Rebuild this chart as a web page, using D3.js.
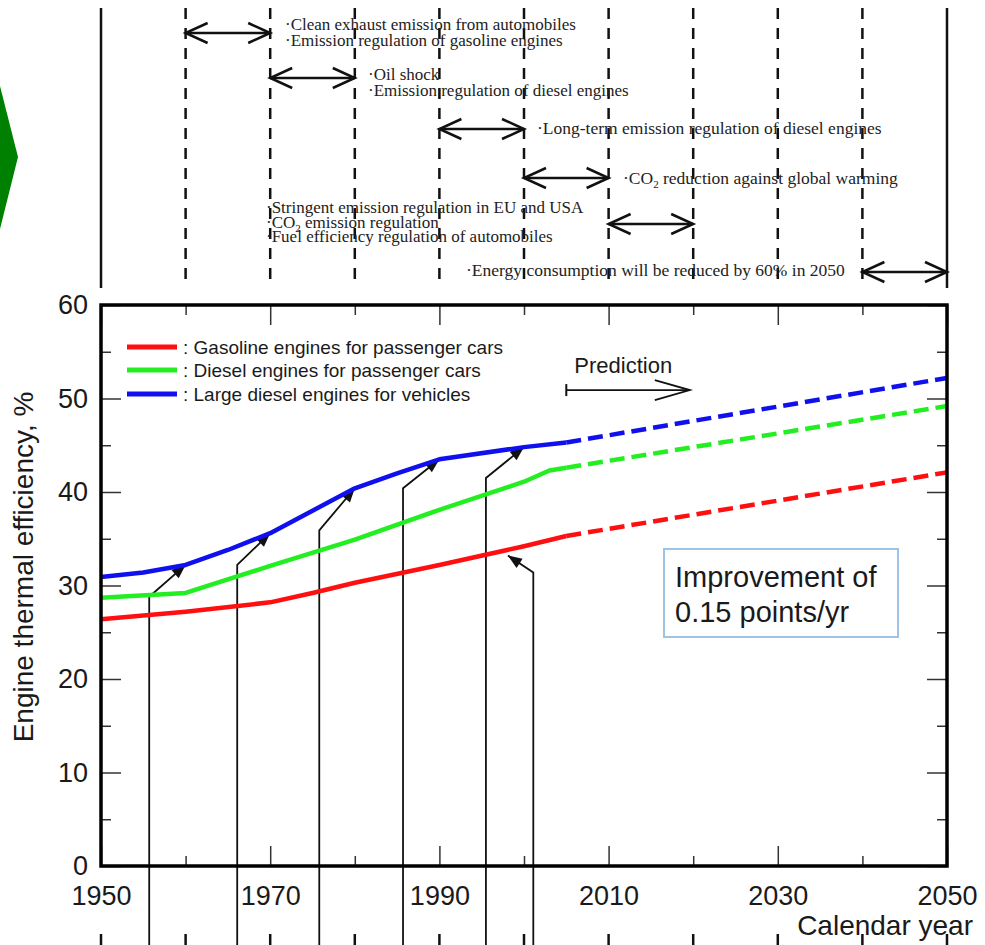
<!DOCTYPE html>
<html>
<head>
<meta charset="utf-8">
<script src="https://cdn.jsdelivr.net/npm/d3@7"></script>
<style>
  body { margin: 0; background: #fff; }
  svg { display: block; }
  .serif { font-family: "Liberation Serif", "Times New Roman", serif; fill: #222; }
  .sans { font-family: "Liberation Sans", Arial, sans-serif; fill: #1a1a1a; }
  .tick line { stroke: #333; stroke-width: 1.5; }
  .tick text { font-family: "Liberation Sans", Arial, sans-serif; font-size: 27px; fill: #1a1a1a; }
</style>
</head>
<body>
<svg id="chart" width="985" height="945"></svg>
<script>
// measured series (solid part)
var gasYears = [1950, 1960, 1970, 1975, 1980, 1990, 2000, 2005];
var gasVals  = [26.4, 27.2, 28.2, 29.2, 30.3, 32.2, 34.2, 35.3];
var dslYears = [1950, 1960, 1970, 1980, 1990, 2000, 2003, 2005];
var dslVals  = [28.7, 29.2, 32.1, 34.9, 38.1, 41.1, 42.3, 42.6];
var bigYears = [1950, 1955, 1960, 1965, 1970, 1975, 1980, 1985, 1990, 2000, 2005];
var bigVals  = [30.9, 31.4, 32.2, 33.8, 35.6, 38.0, 40.4, 42.0, 43.5, 44.8, 45.3];

// prediction (dashed part)
var predYears = [2005, 2050];
var gasPred = [35.3, 42.1];
var dslPred = [42.6, 49.2];
var bigPred = [45.3, 52.2];

var seriesNames = [": Gasoline engines for passenger cars", ": Diesel engines for passenger cars", ": Large diesel engines for vehicles"];
var seriesColors = ["#ff1010", "#22ee22", "#1010ee"];

var yTicks = [0, 10, 20, 30, 40, 50, 60];
var xTicks = [1950, 1970, 1990, 2010, 2030, 2050];
var gridYears = [1950, 1960, 1970, 1980, 1990, 2000, 2010, 2020, 2030, 2040, 2050];

// regulation periods (top panel)
var periodFrom = [1960, 1970, 1990, 2000, 2010, 2040];
var periodTo   = [1970, 1980, 2000, 2010, 2020, 2050];
var periodText = [
  ["·Clean exhaust emission from automobiles", "·Emission regulation of gasoline engines"],
  ["·Oil shock", "·Emission regulation of diesel engines"],
  ["·Long-term emission regulation of diesel engines"],
  ["·CO2 reduction against global warming"],
  ["·Stringent emission regulation in EU and USA", "·CO2 emission regulation", "·Fuel efficiency regulation of automobiles"],
  ["·Energy consumption will be reduced by 60% in 2050"]
];

// pointer arrows from the bottom up to the curves
var ptrYear  = [1955.7, 1966.1, 1975.8, 1985.7, 1995.5, 2001.1];
var ptrKnee  = [28.8, 32.2, 35.9, 40.4, 41.5, 31.4];
var tipYear  = [1960, 1970, 1980, 1990, 2000, 1998.1];
var tipVal   = [32.2, 35.6, 40.4, 43.5, 44.8, 33.2];

var svg = d3.select("#chart");
var W = 985, H = 945;
var pLeft = 101, pRight = 947, pTop = 305, pBottom = 866;

var x = d3.scaleLinear().domain([1950, 2050]).range([pLeft, pRight]);
var y = d3.scaleLinear().domain([0, 60]).range([pBottom, pTop]);

svg.append("rect").attr("width", W).attr("height", H).attr("fill", "#fff");

// green chevron at the left edge
svg.append("path")
  .attr("d", "M0,86 L18,157 L0,229 Z")
  .attr("fill", "#008000");

// ---- top panel ----
var topG = svg.append("g");
gridYears.forEach(function (yr, i) {
  var solid = (i === 0 || i === gridYears.length - 1);
  topG.append("line")
    .attr("x1", x(yr)).attr("x2", x(yr))
    .attr("y1", 8).attr("y2", 288)
    .attr("stroke", "#111")
    .attr("stroke-width", 2.5)
    .attr("stroke-dasharray", solid ? null : "11,9");
  // dashes peeking out below the year labels
  svg.append("line")
    .attr("x1", x(yr)).attr("x2", x(yr))
    .attr("y1", 934).attr("y2", 945)
    .attr("stroke", "#111").attr("stroke-width", 2.5);
});

var rowY = [33, 78, 129, 178, 224, 272];
var textX = [285, 368, 537, 623, 266, 466];
var textY = [30, 80, 134, 184, 213, 276];
var lineGap = [16, 16, 0, 0, 14.5, 0];
var textSize = [17, 17, 17.5, 17.5, 17, 17.5];

function richText(sel, str) {
  var parts = str.split("CO2");
  parts.forEach(function (p, i) {
    if (i > 0) {
      sel.append("tspan").text("CO");
      sel.append("tspan").attr("font-size", "11px").attr("dy", 4).text("2");
      sel.append("tspan").attr("dy", -4).text(p);
    } else {
      sel.append("tspan").text(p);
    }
  });
}

function openHead(g, tx, ty, dir) {
  g.append("path")
    .attr("d", "M" + (tx - dir * 22) + "," + (ty - 10) + " L" + tx + "," + ty + " L" + (tx - dir * 22) + "," + (ty + 10))
    .attr("fill", "none").attr("stroke", "#111").attr("stroke-width", 2.5);
}

periodFrom.forEach(function (a, i) {
  var x0 = x(a), x1 = x(periodTo[i]), ry = rowY[i];
  topG.append("line").attr("x1", x0).attr("x2", x1).attr("y1", ry).attr("y2", ry)
    .attr("stroke", "#111").attr("stroke-width", 2.5);
  openHead(topG, x0, ry, -1);
  openHead(topG, x1, ry, 1);
  periodText[i].forEach(function (s, j) {
    var t = topG.append("text").attr("class", "serif")
      .attr("x", textX[i]).attr("y", textY[i] + j * lineGap[i])
      .attr("font-size", textSize[i] + "px");
    richText(t, s);
  });
});

// ---- main plot ----
var plot = svg.append("g");

// ticks
var minorY = d3.range(5, 60, 10);
var minorX = d3.range(1960, 2050, 20);

function tickSet(axisFn, scale, vals, size, fmt, translate, pad) {
  var ax = axisFn(scale).tickValues(vals).tickSize(size).tickPadding(pad);
  ax.tickFormat(fmt || "");
  var g = plot.append("g").attr("transform", translate).call(ax);
  g.select(".domain").remove();
  return g;
}

tickSet(d3.axisLeft, y, yTicks, -20, d3.format("d"), "translate(" + pLeft + ",0)", 13);
tickSet(d3.axisLeft, y, minorY, -10, null, "translate(" + pLeft + ",0)", 0);
tickSet(d3.axisRight, y, yTicks, -20, null, "translate(" + pRight + ",0)", 0);
tickSet(d3.axisRight, y, minorY, -10, null, "translate(" + pRight + ",0)", 0);
tickSet(d3.axisBottom, x, xTicks, -20, d3.format("d"), "translate(0," + pBottom + ")", 20);
tickSet(d3.axisBottom, x, minorX, -10, null, "translate(0," + pBottom + ")", 0);
tickSet(d3.axisTop, x, xTicks, -20, null, "translate(0," + pTop + ")", 0);
tickSet(d3.axisTop, x, minorX, -10, null, "translate(0," + pTop + ")", 0);

// pointer arrows
ptrYear.forEach(function (yr, i) {
  var px = x(yr), ky = y(ptrKnee[i]);
  var tx = x(tipYear[i]), ty = y(tipVal[i]);
  plot.append("path")
    .attr("d", "M" + px + "," + H + " L" + px + "," + ky + " L" + tx + "," + ty)
    .attr("fill", "none").attr("stroke", "#111").attr("stroke-width", 1.8);
  var ang = Math.atan2(ty - ky, tx - px);
  var L = 14, w = 5.5;
  var bx = tx - L * Math.cos(ang), by = ty - L * Math.sin(ang);
  plot.append("path")
    .attr("d", "M" + tx + "," + ty +
      " L" + (bx - w * Math.sin(ang)) + "," + (by + w * Math.cos(ang)) +
      " L" + (bx + w * Math.sin(ang)) + "," + (by - w * Math.cos(ang)) + " Z")
    .attr("fill", "#111");
});

// curves
var line = d3.line()
  .x(function (d) { return x(d[0]); })
  .y(function (d) { return y(d[1]); });

var solidSets = [d3.zip(gasYears, gasVals), d3.zip(dslYears, dslVals), d3.zip(bigYears, bigVals)];
var predSets = [d3.zip(predYears, gasPred), d3.zip(predYears, dslPred), d3.zip(predYears, bigPred)];

solidSets.forEach(function (pts, i) {
  plot.append("path").datum(pts).attr("d", line)
    .attr("fill", "none").attr("stroke", seriesColors[i]).attr("stroke-width", 4.5)
    .attr("stroke-linejoin", "round");
  plot.append("path").datum(predSets[i]).attr("d", line)
    .attr("fill", "none").attr("stroke", seriesColors[i]).attr("stroke-width", 4.5)
    .attr("stroke-dasharray", "15,7");
});

// frame
plot.append("rect")
  .attr("x", pLeft).attr("y", pTop)
  .attr("width", pRight - pLeft).attr("height", pBottom - pTop)
  .attr("fill", "none").attr("stroke", "#000").attr("stroke-width", 3.5);

// legend
var legY = [347, 370, 394];
seriesNames.forEach(function (name, i) {
  plot.append("line").attr("x1", 127).attr("x2", 177)
    .attr("y1", legY[i]).attr("y2", legY[i])
    .attr("stroke", seriesColors[i]).attr("stroke-width", 5);
  plot.append("text").attr("class", "sans")
    .attr("x", 183).attr("y", legY[i] + 7)
    .attr("font-size", "19px").attr("fill", "#333")
    .text(name);
});

// prediction marker
var pStart = 2005, pEnd = 2019.6, pVal = 50.9;
var py = y(pVal);
plot.append("line").attr("x1", x(pStart)).attr("x2", x(pEnd)).attr("y1", py).attr("y2", py)
  .attr("stroke", "#111").attr("stroke-width", 1.8);
plot.append("line").attr("x1", x(pStart)).attr("x2", x(pStart)).attr("y1", py - 6).attr("y2", py + 6)
  .attr("stroke", "#111").attr("stroke-width", 2);
plot.append("path")
  .attr("d", "M" + (x(pEnd) - 35) + "," + (py - 10) + " L" + x(pEnd) + "," + py + " L" + (x(pEnd) - 35) + "," + (py + 10))
  .attr("fill", "none").attr("stroke", "#111").attr("stroke-width", 1.8);
plot.append("text").attr("class", "sans")
  .attr("x", x(pStart) + 8).attr("y", 373)
  .attr("font-size", "22px").text("Prediction");

// improvement box
plot.append("rect").attr("x", 664).attr("y", 549).attr("width", 234).attr("height", 88)
  .attr("fill", "#fff").attr("stroke", "#9dc3e6").attr("stroke-width", 2);
plot.append("text").attr("class", "sans").attr("x", 675).attr("y", 587)
  .attr("font-size", "29px").text("Improvement of");
plot.append("text").attr("class", "sans").attr("x", 675).attr("y", 622)
  .attr("font-size", "29px").text("0.15 points/yr");

// axis titles
svg.append("text").attr("class", "sans")
  .attr("transform", "translate(33,567) rotate(-90)")
  .attr("text-anchor", "middle").attr("font-size", "28px")
  .text("Engine thermal efficiency, %");
svg.append("text").attr("class", "sans")
  .attr("x", 973).attr("y", 935).attr("text-anchor", "end")
  .attr("font-size", "28px").text("Calendar year");
</script>
</body>
</html>
